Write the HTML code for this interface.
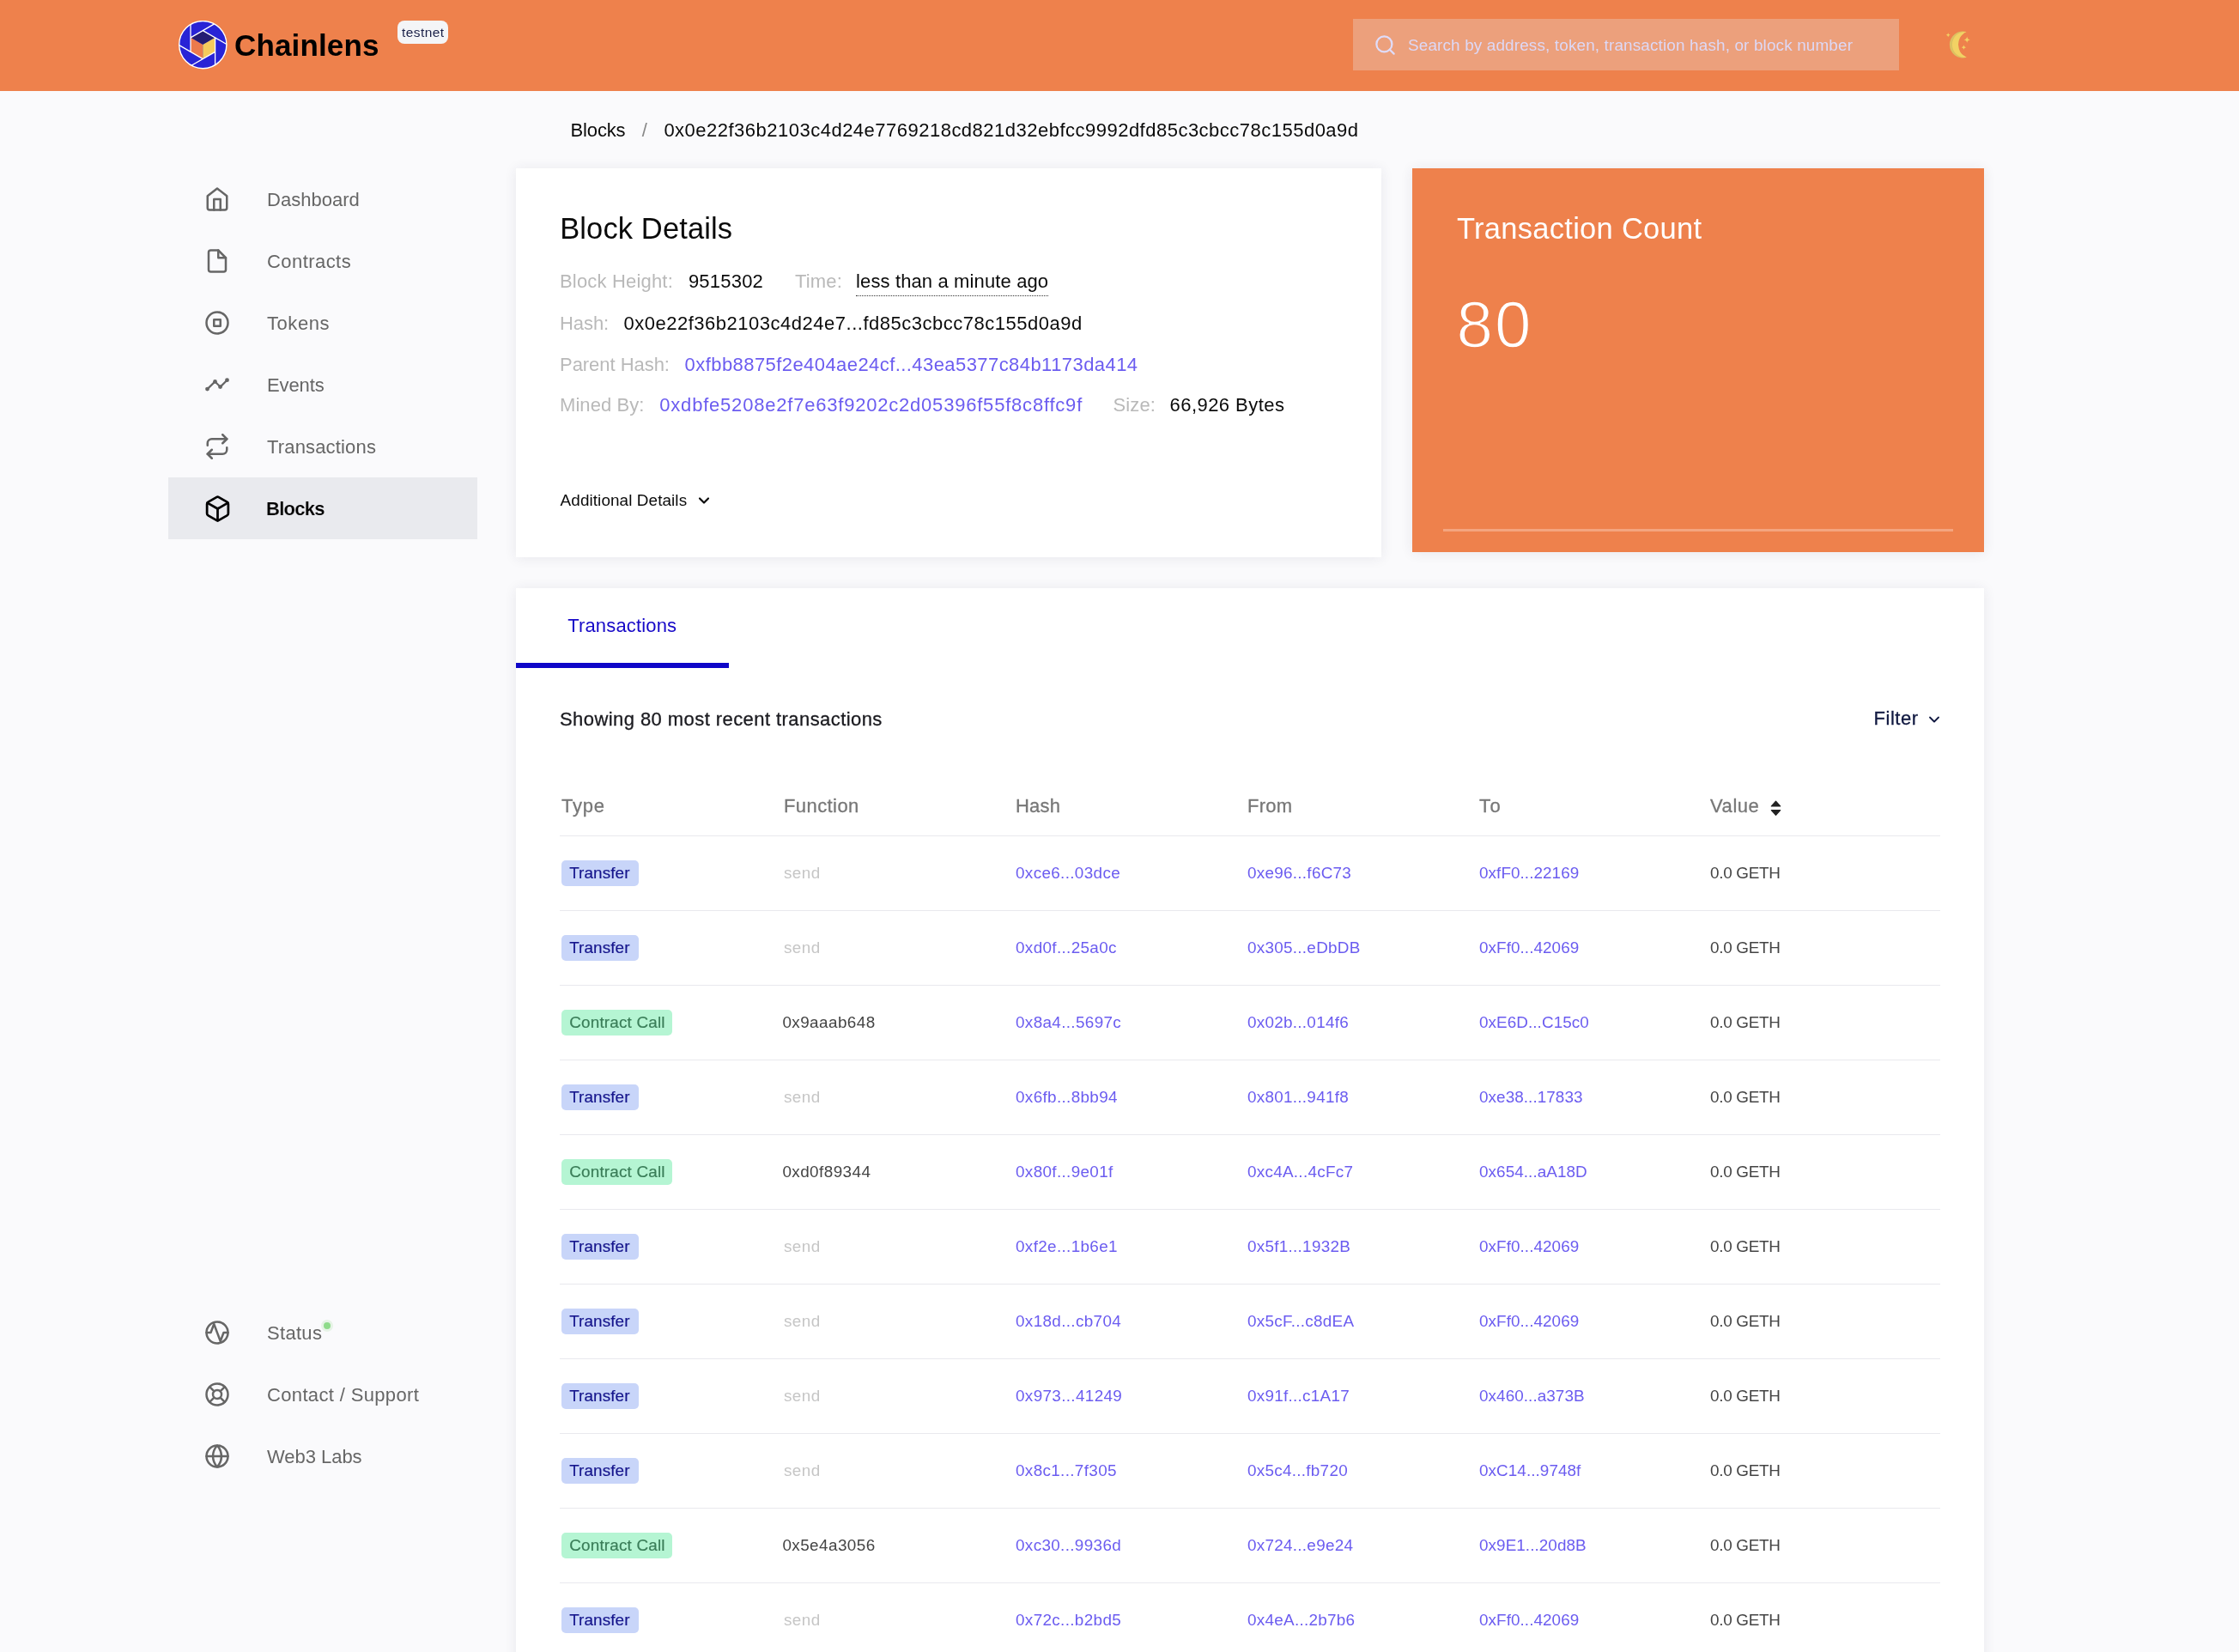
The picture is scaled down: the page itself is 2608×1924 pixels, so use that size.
<!DOCTYPE html>
<html lang="en">
<head>
<meta charset="utf-8">
<title>Chainlens - Block Details</title>
<style>
*{box-sizing:border-box;margin:0;padding:0}
html,body{width:2608px;height:1924px;overflow:hidden}
body{background:#fafafc;font-family:"Liberation Sans",sans-serif;color:#0a0a0a;position:relative}
a{text-decoration:none;color:inherit}
.app{position:absolute;left:0;top:0;width:2608px;height:1924px;will-change:transform}
.t{position:absolute;white-space:nowrap;line-height:1}

/* ---------- header ---------- */
.top{position:absolute;left:0;top:0;width:2608px;height:106px;background:#ee814c}
.logo{position:absolute;left:208px;top:24px;width:57px;height:57px}
.brandname{left:273px;top:34.8px;font-size:35px;font-weight:700;color:#000;letter-spacing:.14px}
.net{position:absolute;left:463px;top:24px;width:59px;height:27px;border-radius:8px;background:#f4f5f7;color:#1a2048;font-size:15.5px;line-height:27px;text-align:center;white-space:nowrap;letter-spacing:.43px;padding-left:.43px}
.search{position:absolute;left:1576px;top:22px;width:636px;height:60px;background:#eca07c}
.search svg{position:absolute;left:24px;top:17px;width:27px;height:27px}
.search span{left:64px;top:21.7px;font-size:18.9px;color:#ddd8f6;letter-spacing:.15px}
.moon{position:absolute;left:2260px;top:30px;width:44px;height:44px}

/* ---------- sidebar ---------- */
.side{position:absolute;left:196px;width:360px}
.side.main{top:196px}
.side.foot{top:1516px}
.item{position:relative;display:block;height:72px;color:#666}
.item svg{position:absolute;left:42px;top:21px;width:30px;height:30px;fill:none;stroke:#666;stroke-width:2;stroke-linecap:round;stroke-linejoin:round}
.item span{position:absolute;left:115px;top:25.85px;font-size:22px;line-height:1;white-space:nowrap}
.item.on{background:#e9eaee;color:#000}
.item.on svg{stroke:#000;stroke-width:2;left:40.5px;top:19.5px;width:33px;height:33px}
.item svg.ev{stroke-width:2.2}
.item svg.ev circle{fill:#666;stroke:none}
.item.on span{font-weight:700;left:114.1px;-webkit-text-stroke:.12px #e9eaee}
.dot{position:absolute;left:178px;top:21px;width:14px;height:14px;border-radius:50%;background:#e6f3e6}
.dot:after{content:"";position:absolute;left:3px;top:3px;width:8px;height:8px;border-radius:50%;background:#8edb8a}

/* ---------- main ---------- */
.card{position:absolute;background:#fff;box-shadow:0 1px 14px rgba(40,40,80,.09)}
.details{left:601px;top:196px;width:1008px;height:453px}
.count{left:1645px;top:196px;width:666px;height:447px;background:#ee814c;color:#fff}
.txs{left:601px;top:685px;width:1710px;height:1300px}

.crumbs{position:absolute;left:0;top:0;font-size:22px}
.crumbs .cb{left:664.6px;top:140.85px;letter-spacing:-.17px}
.crumbs .sep{left:747.8px;top:140.85px;color:#888}
.crumbs .ch{left:773.4px;top:140.85px;letter-spacing:.49px}

.title{left:51.2px;top:52.85px;font-size:34.5px;font-weight:400;color:#0a0a0a;letter-spacing:.12px}
.drow{position:absolute;left:51px;height:22px;font-size:22px;line-height:1;white-space:nowrap}
.drow>*{position:absolute;top:0;left:0}
.lb{color:#b9b9b9}
.vl{color:#0a0a0a}
.lk{color:#6b5cf0}
.dotted{padding-bottom:5px;border-bottom:1.5px dotted #333}
.more{left:51.6px;top:377.6px;font-size:18.9px;color:#0a0a0a;letter-spacing:.09px}
.more svg{position:absolute;left:157.6px;top:-.4px;width:20px;height:20px;fill:none;stroke:#0a0a0a;stroke-width:2.6;stroke-linecap:round;stroke-linejoin:round}

.ctitle{left:52px;top:52.85px;font-size:34.5px;font-weight:400;letter-spacing:.28px}
.cnum{left:51.4px;top:143.6px;font-size:76.4px;letter-spacing:2.1px;-webkit-text-stroke:1.5px #ee814c}
.cline{position:absolute;left:36px;top:419.5px;width:594px;height:3px;background:#f4a57f}

.tab{position:absolute;left:0;top:0;width:248px;height:93px;border-bottom:6px solid #0f06c8}
.tab span{left:60.2px;top:32.95px;font-size:22px;color:#1608c8;letter-spacing:.16px}
.showing{left:51px;top:141.9px;font-size:22px;color:#1a1a1f;letter-spacing:.43px;-webkit-text-stroke:.3px #1a1a1f}
.filter{left:1581.4px;top:141.45px;font-size:22px;color:#101840;letter-spacing:.58px;-webkit-text-stroke:.3px #101840}
.filter svg{position:absolute;left:60.4px;top:1.85px;width:20px;height:20px;fill:none;stroke:#101840;stroke-width:2.2;stroke-linecap:round;stroke-linejoin:round}
.table{position:absolute;left:51px;top:212px;width:1608px}
.row{position:relative;height:87px;border-bottom:1.5px solid #e9e9ee;font-size:18.9px;line-height:1;white-space:nowrap}
.row>*{position:absolute;top:34.05px}
.row.head{height:77px;font-size:22px;color:#777;-webkit-text-stroke:.3px #777}
.row.head>*{top:31.4px}
.c1{left:2px}.c2{left:261px}.c3{left:531px}.c4{left:801px}.c5{left:1071px}.c6{left:1340px}
.row .c1{top:28px}
.row.head .c1{top:31.4px;letter-spacing:.76px}
.row.head .c2{letter-spacing:.42px}
.row.head .c3{letter-spacing:.17px}
.row.head .c4{letter-spacing:.22px}
.row.head .c5{letter-spacing:1.47px}
.row.head .c6{letter-spacing:.55px}
.tag{display:block;height:30px;line-height:30.2px;padding:0 8.6px 0 9.2px;border-radius:5px;font-weight:400;font-size:18.9px}
.tag.tr{background:#c8d5f9;color:#15158c;letter-spacing:.09px;padding-right:10.4px;-webkit-text-stroke:.18px #15158c}
.tag.cc{background:#b5f5d3;color:#3a7d58;letter-spacing:.18px;-webkit-text-stroke:.18px #3a7d58}
.fn{color:#444;letter-spacing:.42px;left:259.4px;top:34px}
.fn.mute{color:#c6c6c6;letter-spacing:.42px;left:261px;top:34px}
.lk{letter-spacing:.27px}
.c3.lk{letter-spacing:.34px}
.c5.lk{letter-spacing:.06px}
.val{color:#444;letter-spacing:-.29px}
.sort{position:absolute;left:69.6px;top:3.45px;width:13px;height:18.6px;fill:#222;stroke:#222;stroke-width:1.2;stroke-linejoin:round}
</style>
</head>
<body>
<div class="app">

<header class="top">
  <svg class="logo" viewBox="0 0 57 57">
    <circle cx="28.3" cy="28.1" r="27.6" fill="#2823d6" stroke="#fff" stroke-width="1.4"/>
    <polygon points="28.30,11.60 42.59,19.85 28.30,28.10 14.01,19.85" fill="#241c72"/>
    <polygon points="14.01,19.85 28.30,28.10 28.30,44.60 14.01,36.35" fill="#ec7a4c"/>
    <polygon points="28.30,28.10 42.59,19.85 42.59,36.35 28.30,44.60" fill="#f5cb5c"/>
    <path d="M14.01 19.85L41.60 3.92M28.30 11.60L55.89 27.53M42.59 19.85L42.59 51.71M42.59 36.35L15.00 52.28M28.30 44.60L0.71 28.67M14.01 36.35L14.01 4.49" stroke="#fff" stroke-width="1.3" fill="none"/>
  </svg>
  <span class="t brandname">Chainlens</span>
  <span class="net">testnet</span>
  <div class="search">
    <svg viewBox="0 0 24 24" fill="none" stroke="#dfdcfa" stroke-width="2" stroke-linecap="round" stroke-linejoin="round"><circle cx="11" cy="11" r="8"/><line x1="21" y1="21" x2="16.65" y2="16.65"/></svg>
    <span class="t">Search by address, token, transaction hash, or block number</span>
  </div>
  <svg class="moon" viewBox="0 0 44 44">
    <path d="M30.5 7.1A15.45 15.45 0 1 0 30.7 36.8A16.3 16.3 0 0 1 30.5 7.1Z" fill="#dcc162"/>
    <path d="M30.5 7.1A14.95 14.95 0 1 0 30.7 36.8A16.3 16.3 0 0 1 30.5 7.1Z" fill="#f2d264"/>
    <path d="M9.20 8.20Q9.45 10.45 11.70 10.70Q9.45 10.95 9.20 13.20Q8.95 10.95 6.70 10.70Q8.95 10.45 9.20 8.20ZM31.20 12.50Q31.58 15.92 35.00 16.30Q31.58 16.68 31.20 20.10Q30.82 16.68 27.40 16.30Q30.82 15.92 31.20 12.50ZM27.40 22.60Q27.66 24.94 30.00 25.20Q27.66 25.46 27.40 27.80Q27.14 25.46 24.80 25.20Q27.14 24.94 27.40 22.60Z" fill="#f2d264"/>
  </svg>
</header>

<nav class="side main">
  <a class="item"><svg viewBox="0 0 24 24"><path d="M3 9l9-7 9 7v11a2 2 0 0 1-2 2H5a2 2 0 0 1-2-2z"/><polyline points="9 22 9 12 15 12 15 22"/></svg><span style="letter-spacing:0.02px">Dashboard</span></a>
  <a class="item"><svg viewBox="0 0 24 24"><path d="M13 2H6a2 2 0 0 0-2 2v16a2 2 0 0 0 2 2h12a2 2 0 0 0 2-2V9z"/><polyline points="13 2 13 9 20 9"/></svg><span style="letter-spacing:0.44px">Contracts</span></a>
  <a class="item"><svg viewBox="0 0 24 24"><circle cx="12" cy="12" r="10"/><rect x="9" y="9" width="6" height="6"/></svg><span style="letter-spacing:0.55px">Tokens</span></a>
  <a class="item"><svg viewBox="0 0 30 30" class="ev"><polyline points="3.5 20.1 12.5 11.4 18.6 17.6 26.5 9.7"/><circle cx="3.5" cy="20.1" r="2.4"/><circle cx="12.5" cy="11.4" r="2.4"/><circle cx="18.6" cy="17.6" r="2.4"/><circle cx="26.5" cy="9.7" r="2.4"/></svg><span style="letter-spacing:-0.11px">Events</span></a>
  <a class="item"><svg viewBox="0 0 24 24"><polyline points="17 1 21 5 17 9"/><path d="M3 11V9a4 4 0 0 1 4-4h14"/><polyline points="7 23 3 19 7 15"/><path d="M21 13v2a4 4 0 0 1-4 4H3"/></svg><span style="letter-spacing:0.16px">Transactions</span></a>
  <a class="item on"><svg viewBox="0 0 24 24"><path d="M21 16V8a2 2 0 0 0-1-1.73l-7-4a2 2 0 0 0-2 0l-7 4A2 2 0 0 0 3 8v8a2 2 0 0 0 1 1.73l7 4a2 2 0 0 0 2 0l7-4A2 2 0 0 0 21 16z"/><polyline points="3.27 6.96 12 12.01 20.73 6.96"/><line x1="12" y1="22.08" x2="12" y2="12"/></svg><span style="letter-spacing:-0.75px">Blocks</span></a>
</nav>

<nav class="side foot">
  <a class="item"><svg viewBox="0 0 24 24"><circle cx="12" cy="12" r="10"/><polyline points="2 12 6 12 9 4 15 20 18 12 22 12"/></svg><span style="letter-spacing:0.31px">Status</span><i class="dot"></i></a>
  <a class="item"><svg viewBox="0 0 24 24"><circle cx="12" cy="12" r="10"/><circle cx="12" cy="12" r="4"/><line x1="4.93" y1="4.93" x2="9.17" y2="9.17"/><line x1="14.83" y1="14.83" x2="19.07" y2="19.07"/><line x1="14.83" y1="9.17" x2="19.07" y2="4.93"/><line x1="4.93" y1="19.07" x2="9.17" y2="14.83"/></svg><span style="letter-spacing:0.35px">Contact / Support</span></a>
  <a class="item"><svg viewBox="0 0 24 24"><circle cx="12" cy="12" r="10"/><line x1="2" y1="12" x2="22" y2="12"/><path d="M12 2a15.3 15.3 0 0 1 4 10 15.3 15.3 0 0 1-4 10 15.3 15.3 0 0 1-4-10 15.3 15.3 0 0 1 4-10z"/></svg><span style="letter-spacing:-0.04px">Web3 Labs</span></a>
</nav>

<main>
  <div class="crumbs"><a class="t cb">Blocks</a><span class="t sep">/</span><span class="t ch">0x0e22f36b2103c4d24e7769218cd821d32ebfcc9992dfd85c3cbcc78c155d0a9d</span></div>
  <section class="card details">
    <h1 class="t title">Block Details</h1>
    <div class="drow" style="top:121.05px"><span class="lb" style="left:0.0px;letter-spacing:0.18px">Block Height:</span><span class="vl" style="left:149.9px;letter-spacing:0.22px">9515302</span><span class="lb" style="left:274.0px;letter-spacing:0.16px">Time:</span><span class="vl dotted" style="left:345.0px;letter-spacing:0.13px">less than a minute ago</span></div>
    <div class="drow" style="top:169.85px"><span class="lb" style="left:0.0px;letter-spacing:-0.07px">Hash:</span><span class="vl" style="left:74.5px;letter-spacing:0.51px">0x0e22f36b2103c4d24e7...fd85c3cbcc78c155d0a9d</span></div>
    <div class="drow" style="top:217.75px"><span class="lb" style="left:0.0px;letter-spacing:-0.04px">Parent Hash:</span><a class="vl lk" style="left:145.6px;letter-spacing:0.43px">0xfbb8875f2e404ae24cf...43ea5377c84b1173da414</a></div>
    <div class="drow" style="top:265.15px"><span class="lb" style="left:0.0px;letter-spacing:0.08px">Mined By:</span><a class="vl lk" style="left:116.3px;letter-spacing:0.79px">0xdbfe5208e2f7e63f9202c2d05396f55f8c8ffc9f</a><span class="lb" style="left:644.4px;letter-spacing:0.15px">Size:</span><span class="vl" style="left:710.5px;letter-spacing:0.46px">66,926 Bytes</span></div>
    <div class="t more">Additional Details<svg viewBox="0 0 24 24"><polyline points="6 9 12 15 18 9"/></svg></div>
  </section>
  <section class="card count">
    <h2 class="t ctitle">Transaction Count</h2>
    <div class="t cnum">80</div>
    <i class="cline"></i>
  </section>
  <section class="card txs">
    <div class="tab"><span class="t">Transactions</span></div>
    <div class="t showing">Showing 80 most recent transactions</div>
    <div class="t filter">Filter<svg viewBox="0 0 24 24"><polyline points="6 9 12 15 18 9"/></svg></div>
    <div class="table">
      <div class="row head"><span class="c1">Type</span><span class="c2">Function</span><span class="c3">Hash</span><span class="c4">From</span><span class="c5">To</span><span class="c6">Value<svg class="sort" viewBox="0 0 12.2 17.7"><path d="M6.1 1.2L11 6.6H1.2Z"/><path d="M6.1 16.5L1.2 11.1H11Z"/></svg></span></div>
      <div class="row"><span class="c1"><b class="tag tr">Transfer</b></span><span class="c2 fn mute">send</span><a class="c3 lk">0xce6...03dce</a><a class="c4 lk">0xe96...f6C73</a><a class="c5 lk">0xfF0...22169</a><span class="c6 val">0.0 GETH</span></div>
      <div class="row"><span class="c1"><b class="tag tr">Transfer</b></span><span class="c2 fn mute">send</span><a class="c3 lk">0xd0f...25a0c</a><a class="c4 lk">0x305...eDbDB</a><a class="c5 lk">0xFf0...42069</a><span class="c6 val">0.0 GETH</span></div>
      <div class="row"><span class="c1"><b class="tag cc">Contract Call</b></span><span class="c2 fn">0x9aaab648</span><a class="c3 lk">0x8a4...5697c</a><a class="c4 lk">0x02b...014f6</a><a class="c5 lk">0xE6D...C15c0</a><span class="c6 val">0.0 GETH</span></div>
      <div class="row"><span class="c1"><b class="tag tr">Transfer</b></span><span class="c2 fn mute">send</span><a class="c3 lk">0x6fb...8bb94</a><a class="c4 lk">0x801...941f8</a><a class="c5 lk">0xe38...17833</a><span class="c6 val">0.0 GETH</span></div>
      <div class="row"><span class="c1"><b class="tag cc">Contract Call</b></span><span class="c2 fn">0xd0f89344</span><a class="c3 lk">0x80f...9e01f</a><a class="c4 lk">0xc4A...4cFc7</a><a class="c5 lk">0x654...aA18D</a><span class="c6 val">0.0 GETH</span></div>
      <div class="row"><span class="c1"><b class="tag tr">Transfer</b></span><span class="c2 fn mute">send</span><a class="c3 lk">0xf2e...1b6e1</a><a class="c4 lk">0x5f1...1932B</a><a class="c5 lk">0xFf0...42069</a><span class="c6 val">0.0 GETH</span></div>
      <div class="row"><span class="c1"><b class="tag tr">Transfer</b></span><span class="c2 fn mute">send</span><a class="c3 lk">0x18d...cb704</a><a class="c4 lk">0x5cF...c8dEA</a><a class="c5 lk">0xFf0...42069</a><span class="c6 val">0.0 GETH</span></div>
      <div class="row"><span class="c1"><b class="tag tr">Transfer</b></span><span class="c2 fn mute">send</span><a class="c3 lk">0x973...41249</a><a class="c4 lk">0x91f...c1A17</a><a class="c5 lk">0x460...a373B</a><span class="c6 val">0.0 GETH</span></div>
      <div class="row"><span class="c1"><b class="tag tr">Transfer</b></span><span class="c2 fn mute">send</span><a class="c3 lk">0x8c1...7f305</a><a class="c4 lk">0x5c4...fb720</a><a class="c5 lk">0xC14...9748f</a><span class="c6 val">0.0 GETH</span></div>
      <div class="row"><span class="c1"><b class="tag cc">Contract Call</b></span><span class="c2 fn">0x5e4a3056</span><a class="c3 lk">0xc30...9936d</a><a class="c4 lk">0x724...e9e24</a><a class="c5 lk">0x9E1...20d8B</a><span class="c6 val">0.0 GETH</span></div>
      <div class="row"><span class="c1"><b class="tag tr">Transfer</b></span><span class="c2 fn mute">send</span><a class="c3 lk">0x72c...b2bd5</a><a class="c4 lk">0x4eA...2b7b6</a><a class="c5 lk">0xFf0...42069</a><span class="c6 val">0.0 GETH</span></div>
    </div>
  </section>
</main>

</div>
</body>
</html>
